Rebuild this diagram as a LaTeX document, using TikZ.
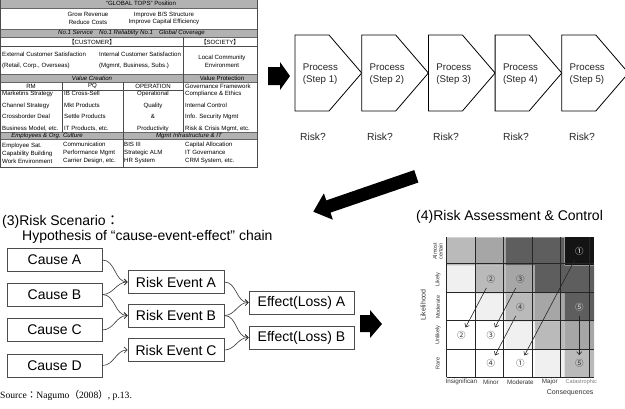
\documentclass[tikz,border=0pt]{standalone}
\usepackage{fontspec}
\setmainfont{Liberation Sans}
\newfontfamily\srcfont{Liberation Serif}
\newfontfamily\cjk{Noto Sans CJK JP}
\usetikzlibrary{arrows.meta}
\begin{document}
\begin{tikzpicture}[x=1pt,y=-1pt,
    tab/.style={font=\fontsize{6.1}{7.7}\selectfont,inner sep=0pt},
    tabl/.style={tab,anchor=west,align=left},
    tabi/.style={tab,font=\fontsize{6.1}{7.7}\selectfont\itshape},
    tabrows/.style={tabl,font=\fontsize{6.1}{11.5}\selectfont},
    tablow/.style={tabl,font=\fontsize{6.1}{8}\selectfont},
    band/.style={fill=black!30,draw=black!60,line width=0.6pt},
    rule/.style={draw=black!70,line width=0.7pt},
    chev/.style={draw=black,line width=0.8pt,fill=white},
    proc/.style={font=\fontsize{9.7}{12.3}\selectfont,align=left,anchor=west,inner sep=0pt,text=black!85},
    riskq/.style={font=\fontsize{10.3}{12}\selectfont,inner sep=0pt,text=black!85},
    head/.style={font=\fontsize{14}{16}\selectfont,anchor=west,inner sep=0pt},
    box/.style={draw=black!70,line width=0.8pt,minimum height=23pt,inner sep=0pt,font=\fontsize{14}{16}\selectfont},
    link/.style={-{Straight Barb[length=3pt,width=6pt]},line width=0.6pt,black!80},
    lv0/.style={fill=black!6},
    lv1/.style={fill=black!27},
    lv2/.style={fill=black!35},
    lv3/.style={fill=black!63},
    lv4/.style={fill=black!92},
    num/.style={font=\cjk\fontsize{8.5}{9}\selectfont,inner sep=1pt,text=black!80},
    move/.style={-{Straight Barb[length=3pt,width=5pt]},line width=0.6pt,black!85,shorten <=4pt,shorten >=3pt},
    ylab/.style={font=\fontsize{5.5}{5.8}\selectfont,rotate=90,inner sep=0pt,align=center,text=black!80},
    xlab/.style={font=\fontsize{6.3}{7}\selectfont,inner sep=0pt,text=black!80}
  ]
  \useasboundingbox (0,0) rectangle (625,408);

  \draw[band] (0,-3) rectangle (257,8);
  \draw[band] (0,29) rectangle (257,37);
  \draw[band] (0,74.5) rectangle (257,82);
  \draw[band] (0,132) rectangle (257,139.5);
  \draw[rule] (0,-3) -- (0,167) -- (257,167) -- (257,-3);
  \draw[rule] (0,46.5) -- (257,46.5) (0,90) -- (183,90)
    (183,37) -- (183,132) (62,82) -- (62,132) (123,82) -- (123,167);
  \draw
    (141,3) node[tab] (gtops) {“GLOBAL TOPS” Position}
    (88,18.5) node[tab,align=center] (grow) {Grow Revenue\\Reduce Costs}
    (164,18.5) node[tab,align=center] (improve) {Improve B/S Structure\\Improve Capital Efficiency}
    (131.5,33) node[tabi] (no1) {No.1 Service\quad No.1 Reliablity No.1\quad Global Coverage}
    (92,42) node[tab] (cust) {{\cjk 【}CUSTOMER{\cjk 】}}
    (220,42) node[tab] (soc) {{\cjk 【}SOCIETY{\cjk 】}}
    (2,54) node[tabl] (ext) {External Customer Satisfaction}
    (99,54) node[tabl] (int) {Internal Customer Satisfaction}
    (2,66) node[tabl] (retail) {(Retail, Corp., Overseas)}
    (99,66) node[tabl] (mgmnt) {(Mgmnt, Business, Subs.)}
    (222,61) node[tab,align=center] (local) {Local Community\\Environment}
    (92,78.3) node[tabi] (vcre) {Value Creation}
    (222,78.3) node[tab] (vpro) {Value Protection}
    (31,86) node[tab] (rm) {RM}
    (92.5,86) node[tab] (pq) {PQ}
    (153,86) node[tab] (oper) {OPERATION}
    (185,86) node[tabl] (gov) {Governance Framework}
    (2,111.3) node[tabrows] (rmcol) {Marketins Strategy\\Channel Strategy\\Crossborder Deal\\Business Model, etc.}
    (64,111.3) node[tabrows] (pqcol) {IB Cross-Sell\\Mkt Products\\Settle Products\\IT Products, etc.}
    (153,111.3) node[tabrows,anchor=center,align=center] (opcol) {Operational\\Quality\\\&\\Productivity}
    (185,111.3) node[tabrows] (govcol) {Compliance \& Ethics\\Internal Control\\Info. Security Mgmt\\Risk \& Crisis Mgmt, etc.}
    (47,135.8) node[tabi] (empl) {Employees \& Org. Culture}
    (189,135.8) node[tabi] (infra) {Mgmt Infrastructure \& IT}
    (2,153) node[tablow] (emcol) {Employee Sat.\\Capability Building\\Work Environment}
    (63,153) node[tablow] (comcol) {Communication\\Performance Mgmt\\Carrier Design, etc.}
    (124,153) node[tablow] (biscol) {BIS III\\Strategic ALM\\HR System}
    (185,153) node[tablow] (capcol) {Capital Allocation\\IT Governance\\CRM System, etc.};

  \fill (268,67) -- (280,67) -- (280,62) -- (290,76) -- (280,90) -- (280,85) -- (268,85) -- cycle;
  \draw[chev] (295,35) -- ++(34,0) -- ++(32.7,38) -- ++(-32.7,38) -- ++(-34,0) -- cycle;
  \draw[chev] (361.7,35) -- ++(34,0) -- ++(32.7,38) -- ++(-32.7,38) -- ++(-34,0) -- cycle;
  \draw[chev] (428.4,35) -- ++(34,0) -- ++(32.7,38) -- ++(-32.7,38) -- ++(-34,0) -- cycle;
  \draw[chev] (495.1,35) -- ++(34,0) -- ++(32.7,38) -- ++(-32.7,38) -- ++(-34,0) -- cycle;
  \draw[chev] (561.8,35) -- ++(34,0) -- ++(32.7,38) -- ++(-32.7,38) -- ++(-34,0) -- cycle;
  \draw
    (302.7,74) node[proc] (p1) {Process\\(Step 1)}
    (369.4,74) node[proc] (p2) {Process\\(Step 2)}
    (436.1,74) node[proc] (p3) {Process\\(Step 3)}
    (502.8,74) node[proc] (p4) {Process\\(Step 4)}
    (569.5,74) node[proc] (p5) {Process\\(Step 5)}
    (313,137) node[riskq] (r1) {Risk?}
    (380,137) node[riskq] (r2) {Risk?}
    (446,137) node[riskq] (r3) {Risk?}
    (516,137) node[riskq] (r4) {Risk?}
    (582,137) node[riskq] (r5) {Risk?};

  \fill (313.3,211.7) -- (332.9,219.7) -- (330.5,212.6) -- (418.4,182.5)
    -- (414.2,170.1) -- (326.3,200.4) -- (323.9,193.3) -- cycle;

  \draw
    (2,222) node[head] (scen) {(3)Risk Scenario{\cjk ：}}
    (22,237) node[head] (hypo) {Hypothesis of “cause-event-effect” chain}
    (54.5,260) node[box,minimum width=95pt] (ca) {Cause A}
    (54.5,294.5) node[box,minimum width=95pt] (cb) {Cause B}
    (54.5,330) node[box,minimum width=95pt] (cc) {Cause C}
    (54.5,365.5) node[box,minimum width=95pt] (cd) {Cause D}
    (176,282) node[box,minimum width=96pt] (ea) {Risk Event A}
    (176,315.5) node[box,minimum width=96pt] (eb) {Risk Event B}
    (176,350) node[box,minimum width=96pt] (ec) {Risk Event C}
    (301.5,302.5) node[box,minimum width=105pt] (la) {Effect(Loss) A}
    (301.5,337.5) node[box,minimum width=105pt] (lb) {Effect(Loss) B}
    (0,395) node[anchor=west,inner sep=0pt,font=\srcfont\fontsize{9.6}{11}\selectfont] (src)
      {Source{\cjk ：}Nagumo{\cjk （}2008{\cjk ）}, p.13.};
  \begin{scope}[link]
    \draw (ca.east) to[out=0,in=180] (ea.west);
    \draw (cb.east) to[out=0,in=180] (ea.west);
    \draw (cb.east) to[out=0,in=180] (eb.west);
    \draw (cc.east) to[out=0,in=180] (eb.west);
    \draw (cd.east) to[out=0,in=180] (ec.west);
    \draw (ea.east) to[out=0,in=180] (la.west);
    \draw (eb.east) to[out=0,in=180] (la.west);
    \draw (eb.east) to[out=0,in=180] (lb.west);
    \draw (ec.east) to[out=0,in=180] (lb.west);
  \end{scope}

  \fill (360,315) -- (370,315) -- (370,310) -- (382,324) -- (370,338) -- (370,332) -- (360,332) -- cycle;

  \node[head] (assess) at (416,217) {(4)Risk Assessment \& Control};
  \begin{scope}[shift={(446.7,377.3)},x=29.46pt,y=28pt]
    \fill[lv0] (0,3) rectangle ++(1,1) (1,2) rectangle ++(1,1) (2,1) rectangle ++(1,1) (3,0) rectangle ++(1,1);
    \fill[lv1] (0,4) rectangle ++(1,1) (1,3) rectangle ++(1,1) (2,2) rectangle ++(1,1) (3,1) rectangle ++(1,1) (4,0) rectangle ++(1,1);
    \fill[lv2] (1,4) rectangle ++(1,1) (2,3) rectangle ++(1,1) (3,2) rectangle ++(1,1) (4,1) rectangle ++(1,1);
    \fill[lv3] (2,4) rectangle ++(2,1) (3,3) rectangle ++(2,1) (4,2) rectangle ++(1,1);
    \fill[lv4] (4,4) rectangle ++(1,1);
    \draw[black!85,line width=0.7pt] (0,0) grid (5,5);
    \draw
      (4.5,4.5) node[num,text=white] (s1) {①}
      (1.5,3.5) node[num] (s2) {②}
      (2.5,3.5) node[num] (s3) {③}
      (2.5,2.5) node[num] (s4) {④}
      (4.5,2.5) node[num,text=black!12] (s5) {⑤}
      (0.5,1.5) node[num] (e2) {②}
      (1.5,1.5) node[num] (e3) {③}
      (1.5,0.5) node[num] (e4) {④}
      (2.5,0.5) node[num] (e1) {①}
      (4.5,0.5) node[num] (e5) {⑤};
    \draw[move] (s1) -- (e1);
    \draw[move] (s2) -- (e2);
    \draw[move] (s3) -- (e3);
    \draw[move] (s4) -- (e4);
    \draw[move] (s5) -- (e5);
    \draw
      (-0.3,4.5) node[ylab] (almost) {Almost\\certain}
      (-0.3,3.5) node[ylab] (likely) {Likely}
      (-0.3,2.5) node[ylab] (moder) {Moderate}
      (-0.3,1.5) node[ylab] (unlik) {Unlikely}
      (-0.3,0.5) node[ylab] (rare) {Rare}
      (-0.8,2.58) node[ylab,font=\fontsize{7}{8}\selectfont] (likeli) {Likelihood}
      (0.5,-0.18) node[xlab] (insig) {Insignifican}
      (1.5,-0.18) node[xlab] (minor) {Minor}
      (2.5,-0.18) node[xlab] (moderate) {Moderate}
      (3.5,-0.18) node[xlab] (major) {Major}
      (4.57,-0.18) node[xlab,font=\fontsize{5.6}{6}\selectfont,text=black!50] (catas) {Catastrophic}
      (4.19,-0.55) node[xlab,font=\fontsize{7}{8}\selectfont] (conseq) {Consequences};
  \end{scope}
\end{tikzpicture}
\end{document}
